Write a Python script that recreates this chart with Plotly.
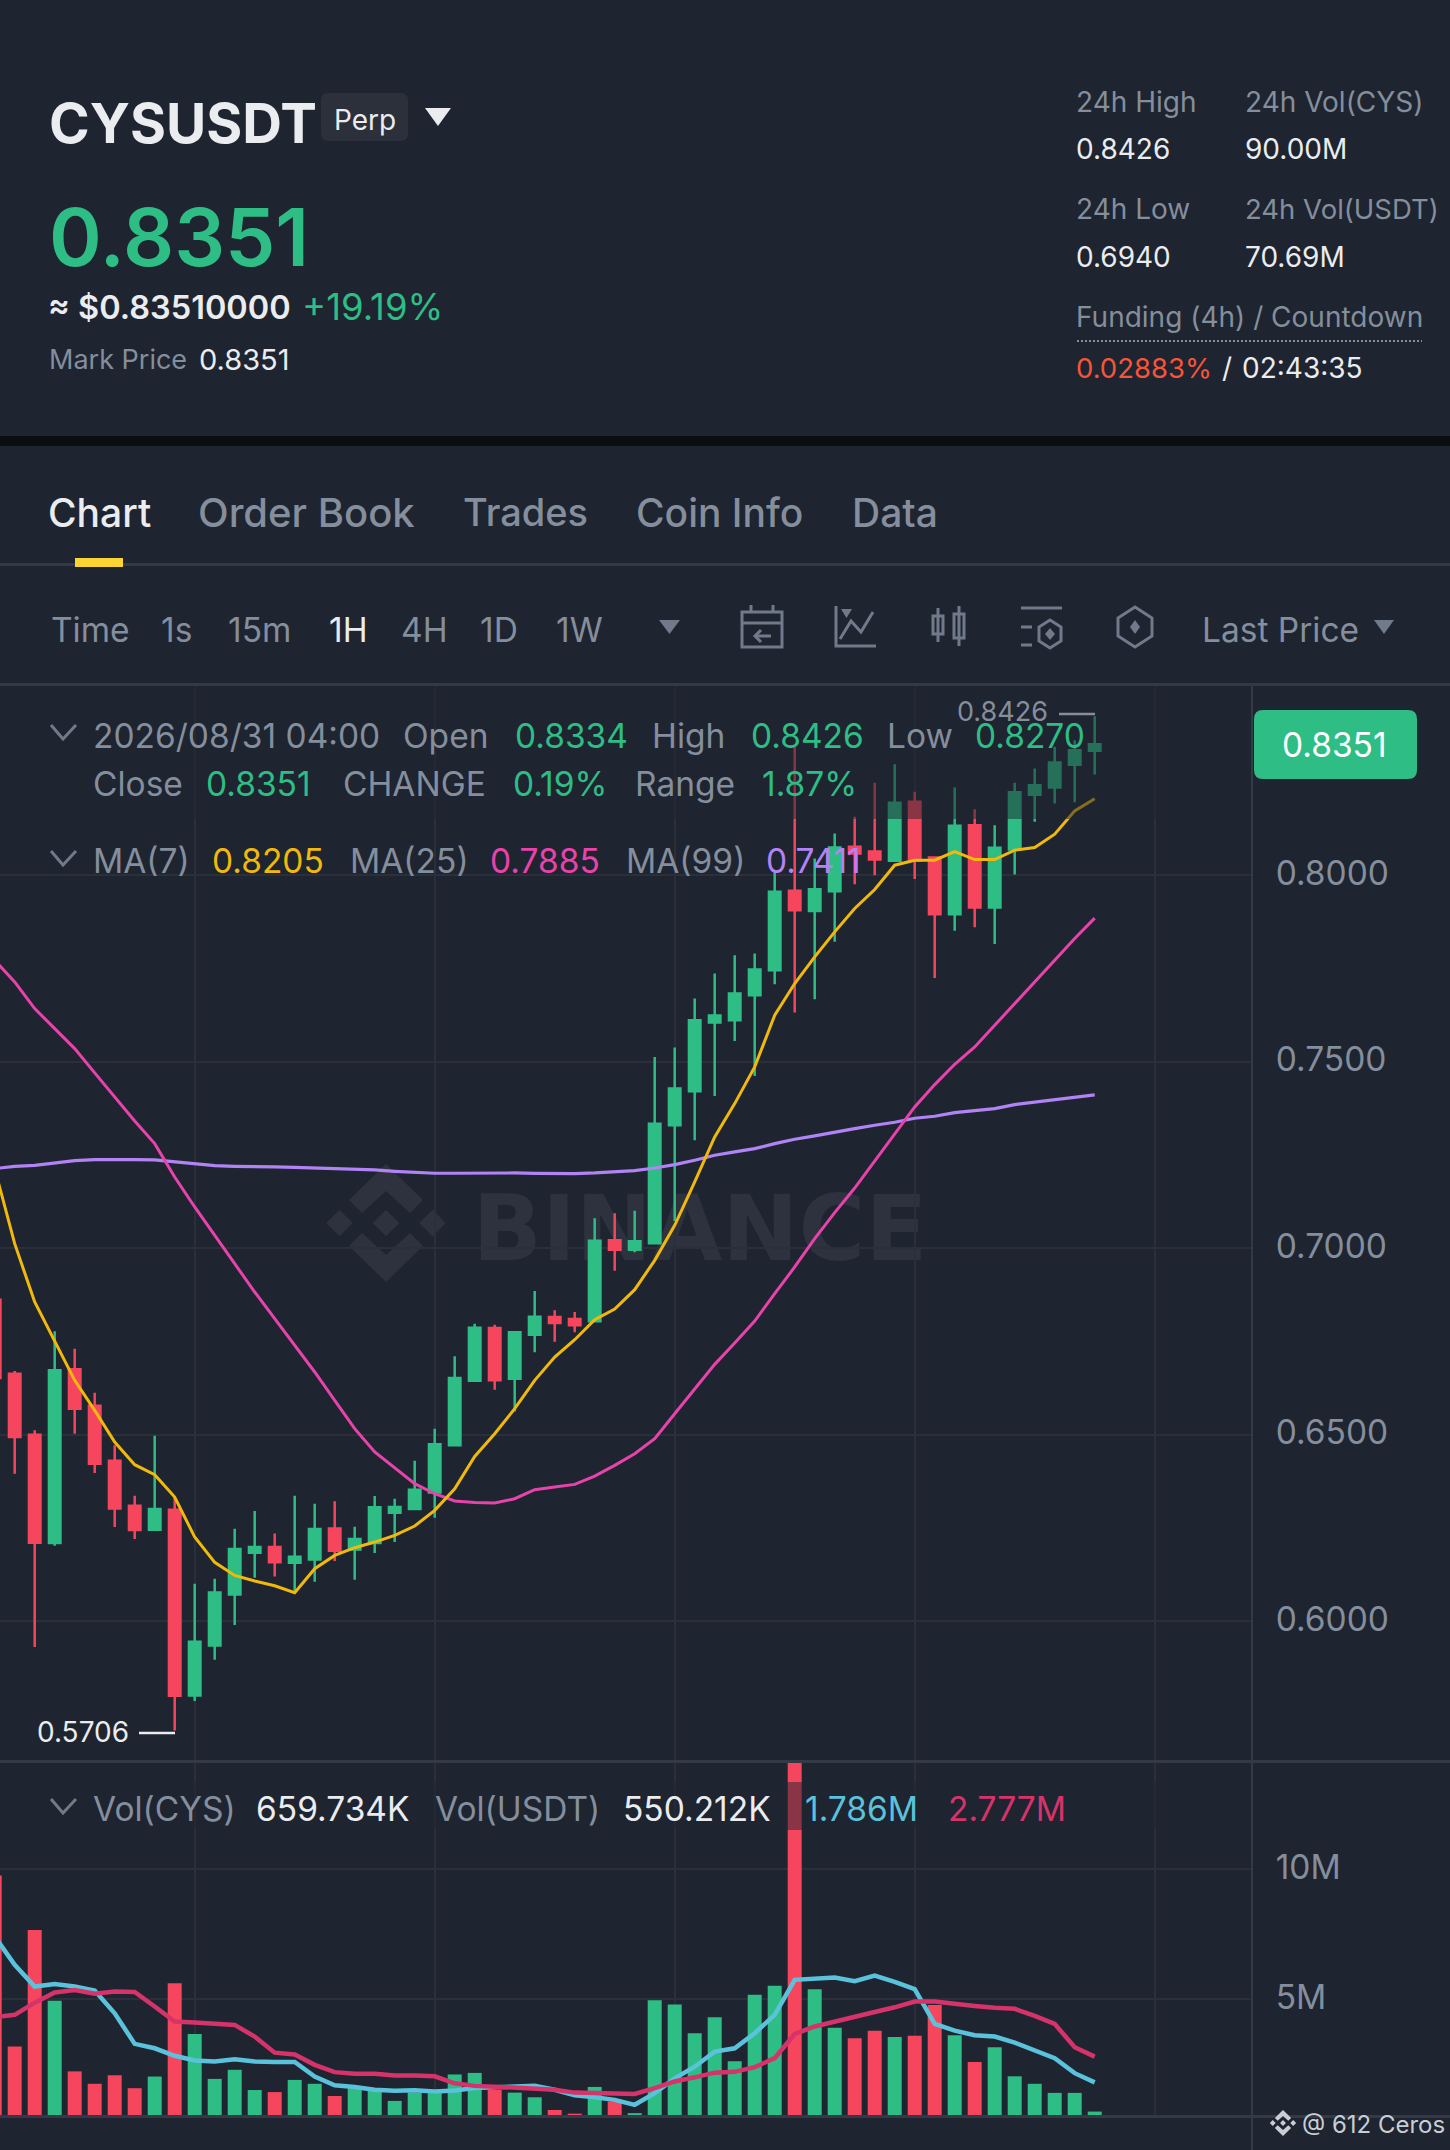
import plotly.graph_objects as go

W, H = 1450, 2150

# Candle index, -1 is the one cut off by the left edge
idx = list(range(-1, 55))

opens = [0.68617, 0.66633, 0.64997, 0.62091, 0.66749, 0.65775, 0.64300, 0.63092, 0.62449, 0.62985,
         0.58005, 0.59346, 0.60714, 0.61832, 0.61984, 0.61564, 0.61653, 0.62484, 0.61921, 0.62091,
         0.62905, 0.63003, 0.63450, 0.64711, 0.66445, 0.67857, 0.66498, 0.67679, 0.68152, 0.68099,
         0.68036, 0.70209, 0.69959, 0.70128, 0.73294, 0.74206, 0.76048, 0.76110, 0.76781, 0.77452,
         0.79580, 0.79043, 0.79571, 0.80760, 0.80635, 0.80384, 0.81967, 0.80474, 0.78954, 0.81341,
         0.79132, 0.80688, 0.82155, 0.82351, 0.82959, 0.8334]
highs = [0.6870, 0.66705, 0.65113, 0.67768, 0.67303, 0.66123, 0.64711, 0.63361, 0.64970, 0.63325,
         0.61000, 0.61134, 0.62476, 0.62949, 0.62350, 0.63361, 0.63146, 0.63209, 0.62529, 0.63352,
         0.63280, 0.64300, 0.65158, 0.67098, 0.67974, 0.67947, 0.67777, 0.68850, 0.68331, 0.68287,
         0.70799, 0.70933, 0.71005, 0.75127, 0.75377, 0.76692, 0.77362, 0.77854, 0.77899, 0.80134,
         0.83442, 0.80447, 0.81117, 0.81564, 0.82476, 0.82977, 0.82235, 0.80480, 0.82351, 0.81770,
         0.81341, 0.82476, 0.82861, 0.83442, 0.83621, 0.8426]
lows = [0.6640, 0.63951, 0.59301, 0.62020, 0.65024, 0.63969, 0.62520, 0.62198, 0.62430, 0.57066,
        0.57853, 0.58962, 0.59892, 0.61161, 0.61197, 0.60777, 0.61054, 0.61608, 0.61108, 0.61823,
        0.62118, 0.63003, 0.62771, 0.64684, 0.66436, 0.66203, 0.65622, 0.67205, 0.67491, 0.67741,
        0.68036, 0.69395, 0.69887, 0.70111, 0.70727, 0.72892, 0.74081, 0.75556, 0.74617, 0.77076,
        0.76316, 0.76674, 0.78212, 0.79758, 0.80000, 0.80370, 0.79901, 0.77246, 0.78507, 0.78605,
        0.78158, 0.80018, 0.81430, 0.81922, 0.81958, 0.8270]
closes = [0.66517, 0.64934, 0.62100, 0.66723, 0.65694, 0.64219, 0.63021, 0.62440, 0.63003, 0.57996,
          0.59445, 0.60768, 0.61930, 0.61984, 0.61573, 0.61725, 0.62467, 0.61885, 0.62198, 0.63048,
          0.63057, 0.63522, 0.64738, 0.66517, 0.67866, 0.66454, 0.67741, 0.68161, 0.67992, 0.67929,
          0.70200, 0.69959, 0.70182, 0.73338, 0.74278, 0.76110, 0.76236, 0.76826, 0.77469, 0.79553,
          0.79061, 0.79624, 0.80742, 0.80581, 0.80420, 0.81940, 0.80384, 0.78954, 0.81323, 0.79132,
          0.80733, 0.82226, 0.82414, 0.83022, 0.83353, 0.8351]

ma7 = [0.72132, 0.70120, 0.68555, 0.67500, 0.66454, 0.65650, 0.64800, 0.64192, 0.63924, 0.63325,
       0.62252, 0.61573, 0.61224, 0.61072, 0.60947, 0.60759, 0.61403, 0.61760, 0.61966, 0.62118,
       0.62297, 0.62547, 0.62967, 0.63548, 0.64415, 0.65023, 0.65694, 0.66454, 0.67080, 0.67544,
       0.68081, 0.68367, 0.68886, 0.69672, 0.70611, 0.71774, 0.72981, 0.73875, 0.74859, 0.76244,
       0.77094, 0.77809, 0.78480, 0.79106, 0.79615, 0.80268, 0.80402, 0.80402, 0.80635, 0.80420,
       0.80420, 0.80670, 0.80742, 0.81099, 0.81725, 0.8205]
ma25 = [0.77720, 0.77139, 0.76423, 0.75887, 0.75350, 0.74698, 0.74054, 0.73410, 0.72802, 0.71908,
        0.71103, 0.70343, 0.69583, 0.68823, 0.68108, 0.67393, 0.66678, 0.65918, 0.65158, 0.64532,
        0.64112, 0.63683, 0.63414, 0.63218, 0.63181, 0.63164, 0.63280, 0.63521, 0.63593, 0.63664,
        0.63888, 0.64174, 0.64487, 0.64889, 0.65560, 0.66230, 0.66883, 0.67455, 0.68045, 0.68778,
        0.69494, 0.70254, 0.70951, 0.71610, 0.72340, 0.73070, 0.73786, 0.74385, 0.74930, 0.75395,
        0.75976, 0.76557, 0.77156, 0.77738, 0.78301, 0.7885]
ma99 = [0.72132, 0.72194, 0.72221, 0.72293, 0.72346, 0.72373, 0.72382, 0.72373, 0.72364, 0.72319,
        0.72257, 0.72212, 0.72194, 0.72194, 0.72176, 0.72167, 0.72150, 0.72132, 0.72114, 0.72096,
        0.72060, 0.72024, 0.72007, 0.72007, 0.72015, 0.72015, 0.72015, 0.72006, 0.71997, 0.71997,
        0.72015, 0.72042, 0.72078, 0.72149, 0.72239, 0.72355, 0.72489, 0.72579, 0.72668, 0.72802,
        0.72919, 0.73008, 0.73115, 0.73204, 0.73294, 0.73375, 0.73482, 0.73535, 0.73634, 0.73679,
        0.73741, 0.73848, 0.73911, 0.73982, 0.74045, 0.7411]

# Volume in millions
volume = [9.76, 3.17, 7.66, 4.93, 2.21, 1.73, 2.06, 1.56, 2.01, 5.61,
          3.65, 1.92, 2.27, 1.49, 1.41, 1.88, 1.73, 1.26, 1.56, 1.49,
          1.07, 1.39, 1.37, 2.09, 2.15, 1.49, 1.39, 1.21, 0.72, 0.58,
          1.61, 1.05, 0.60, 4.95, 4.79, 3.68, 4.30, 2.60, 5.16, 5.51,
          14.2, 5.38, 3.89, 3.49, 3.78, 3.53, 3.58, 4.77, 3.60, 2.57,
          3.14, 2.02, 1.73, 1.38, 1.38, 0.66]
vol_ma5 = [7.41, 6.32, 5.48, 5.58, 5.48, 5.33, 4.45, 3.27, 3.10, 2.81,
           2.63, 2.59, 2.68, 2.59, 2.57, 2.57, 2.01, 1.67, 1.61, 1.50,
           1.46, 1.48, 1.43, 1.47, 1.57, 1.59, 1.62, 1.65, 1.50, 1.29,
           1.21, 1.11, 0.92, 1.37, 1.94, 2.39, 2.97, 3.10, 3.68, 4.39,
           5.74, 5.80, 5.83, 5.69, 5.90, 5.66, 5.38, 4.04, 3.78, 3.60,
           3.55, 3.32, 3.04, 2.72, 2.14, 1.786]
vol_ma10 = [4.30, 4.39, 4.86, 5.25, 5.35, 5.20, 5.29, 5.27, 4.71, 4.13,
            4.09, 4.03, 4.00, 3.55, 2.93, 2.86, 2.46, 2.18, 2.12, 2.12,
            2.05, 2.05, 2.02, 1.75, 1.65, 1.62, 1.59, 1.56, 1.50, 1.39,
            1.37, 1.39, 1.34, 1.56, 1.82, 1.98, 2.16, 2.19, 2.37, 2.72,
            3.65, 3.94, 4.13, 4.35, 4.50, 4.68, 4.90, 4.90, 4.80, 4.73,
            4.66, 4.62, 4.35, 4.04, 3.14, 2.777]

price_ticks = [0.60, 0.65, 0.70, 0.75, 0.80]
vol_ticks = [5, 10]
vol_tick_labels = ["5M", "10M"]
time_grid = [9, 21, 33, 45, 57]

BG = "#1E2430"
GRID = "#2A2F3A"
LINE = "#333945"
GREEN = "#2EBD85"
RED = "#F6465D"
GRAY = "#848E9C"
WHITE = "#EAECEF"
ICON = "#717A8A"
ORANGE = "#F0B90B"
PINK = "#E843AB"
PURPLE = "#B183F5"
BLUE = "#5AC2DB"
ROSE = "#D6336B"
FONT = "Inter"

def fx(x):
    return x / W

def fy(y):
    return 1 - y / H

fig = go.Figure()

# Price pane
fig.add_trace(go.Candlestick(x=idx, open=opens, high=highs, low=lows, close=closes, whiskerwidth=0,
                             increasing=dict(line=dict(color=GREEN, width=2.5), fillcolor=GREEN),
                             decreasing=dict(line=dict(color=RED, width=2.5), fillcolor=RED),
                             xaxis="x", yaxis="y", showlegend=False))
for vals, col, wd in [(ma99, PURPLE, 3.2), (ma25, PINK, 3), (ma7, ORANGE, 3)]:
    fig.add_trace(go.Scatter(x=idx, y=vals, mode="lines", line=dict(color=col, width=wd),
                             xaxis="x", yaxis="y", showlegend=False))

# Volume pane
bar_colors = [GREEN if c >= o else RED for o, c in zip(opens, closes)]
fig.add_trace(go.Bar(x=idx, y=volume, width=0.7, marker=dict(color=bar_colors, line=dict(width=0)),
                     xaxis="x2", yaxis="y2", showlegend=False))
for vals, col in [(vol_ma5, BLUE), (vol_ma10, ROSE)]:
    fig.add_trace(go.Scatter(x=idx, y=vals, mode="lines", line=dict(color=col, width=4.5),
                             xaxis="x2", yaxis="y2", showlegend=False))

shapes = []
annotations = []

def label(x, y, text, size=33.5, color=GRAY, weight=400, anchor="left"):
    annotations.append(dict(x=fx(x - 2 if anchor == "left" else x), y=fy(y), xref="paper", yref="paper",
                            text=text, showarrow=False, xanchor=anchor, yanchor="middle", borderpad=0,
                            font=dict(family=FONT, size=size, color=color, weight=weight)))

def poly(points, close=False):
    s = "M" + " L".join(f"{fx(a):.5f},{fy(b):.5f}" for a, b in points)
    return s + (" Z" if close else "")

def fill(points, color, layer="above"):
    shapes.append(dict(type="path", path=poly(points, True), xref="paper", yref="paper",
                       fillcolor=color, line=dict(width=0), layer=layer))

def stroke(points, color=ICON, width=3, close=False, dash=None):
    shapes.append(dict(type="path", path=poly(points, close), xref="paper", yref="paper",
                       line=dict(color=color, width=width, dash=dash or "solid"), layer="above"))

def box(x0, y0, x1, y1, color, layer="above"):
    shapes.append(dict(type="rect", x0=fx(x0), x1=fx(x1), y0=fy(y0), y1=fy(y1), xref="paper", yref="paper",
                       fillcolor=color, line=dict(width=0), layer=layer))

def rounded(x0, y0, x1, y1, r, color):
    p = (f"M{fx(x0 + r):.5f},{fy(y0):.5f} L{fx(x1 - r):.5f},{fy(y0):.5f} "
         f"Q{fx(x1):.5f},{fy(y0):.5f} {fx(x1):.5f},{fy(y0 + r):.5f} L{fx(x1):.5f},{fy(y1 - r):.5f} "
         f"Q{fx(x1):.5f},{fy(y1):.5f} {fx(x1 - r):.5f},{fy(y1):.5f} L{fx(x0 + r):.5f},{fy(y1):.5f} "
         f"Q{fx(x0):.5f},{fy(y1):.5f} {fx(x0):.5f},{fy(y1 - r):.5f} L{fx(x0):.5f},{fy(y0 + r):.5f} "
         f"Q{fx(x0):.5f},{fy(y0):.5f} {fx(x0 + r):.5f},{fy(y0):.5f} Z")
    shapes.append(dict(type="path", path=p, xref="paper", yref="paper", fillcolor=color,
                       line=dict(width=0), layer="above"))

def logo(cx, cy, s, color, layer="above"):
    # s=1 is the big watermark
    for dx in (-46.5, 0, 46.5):
        fill([(cx + dx * s - 13.3 * s, cy), (cx + dx * s, cy - 13.3 * s),
              (cx + dx * s + 13.3 * s, cy), (cx + dx * s, cy + 13.3 * s)], color, layer)
    for sgn in (-1, 1):
        fill([(cx, cy + sgn * 59 * s), (cx + 37 * s, cy + sgn * 23 * s), (cx + 24 * s, cy + sgn * 10 * s),
              (cx, cy + sgn * 32 * s), (cx - 24 * s, cy + sgn * 10 * s), (cx - 37 * s, cy + sgn * 23 * s)],
             color, layer)

# Watermark goes under the candles
logo(386, 1223, 1, "#2D323E", layer="below")
shapes.append(dict(type="rect", x0=fx(466), x1=fx(934), y0=fy(1187), y1=fy(1255), xref="paper", yref="paper",
                   fillcolor="rgba(0,0,0,0)", line=dict(width=0), layer="below",
                   label=dict(text="BINANCE", textposition="middle center",
                              font=dict(family="DejaVu Sans", size=91, color="#2D323E", weight=700))))

# Page bands and separators
box(0, 436, W, 446, "#0B0E11")
box(0, 563, W, 566, LINE)
box(75, 558, 123, 567, "#FCD535")
box(0, 683, W, 686, LINE)
box(0, 1760, W, 1763, LINE)
box(0, 2115, W, 2118, LINE)
box(1251, 686, 1253, H, LINE)

# The legend strips fade whatever runs behind them
box(0, 686, 1251, 819, "rgba(30,36,48,0.5)")
box(0, 1782, 1251, 1830, "rgba(30,36,48,0.5)")

# Header
label(50, 123, "CYSUSDT", 55, WHITE, 700)
rounded(321, 93, 408, 141, 7, "#2B303B")
label(335, 120, "Perp", 28, WHITE)
fill([(425, 108), (451, 108), (438, 126)], WHITE)
label(50, 236, "0.8351", 80, GREEN, 600)
label(49, 307, "≈ $0.83510000", 32.5, WHITE, 600)
label(303, 307, "+19.19%", 36.5, GREEN)
label(50, 359, "Mark Price", 27, GRAY)
label(200, 359, "0.8351", 29, WHITE)

label(1077, 102, "24h High", 28, GRAY)
label(1246, 102, "24h Vol(CYS)", 28, GRAY)
label(1077, 149, "0.8426", 28, WHITE)
label(1246, 149, "90.00M", 28, WHITE)
label(1077, 209, "24h Low", 28, GRAY)
label(1246, 209, "24h Vol(USDT)", 27.5, GRAY)
label(1077, 257, "0.6940", 28, WHITE)
label(1246, 257, "70.69M", 28, WHITE)
label(1077, 317, "Funding (4h) / Countdown", 28, GRAY)
stroke([(1077, 341), (1422, 341)], GRAY, 2, dash="2px,2px")
label(1077, 368, "0.02883%", 27.5, "#F6553A")
label(1223, 368, "/", 28, WHITE)
label(1243, 368, "02:43:35", 28, WHITE)

# Tabs
label(49, 512, "Chart", 39, WHITE, 500)
label(199, 512, "Order Book", 40, GRAY, 500)
label(464, 512, "Trades", 38, GRAY, 500)
label(637, 512, "Coin Info", 39, GRAY, 500)
label(853, 512, "Data", 39, GRAY, 500)

# Toolbar
for x, t, c in [(52, "Time", GRAY), (162, "1s", GRAY), (229, "15m", GRAY), (330, "1H", WHITE),
                (402, "4H", GRAY), (481, "1D", GRAY), (557, "1W", GRAY), (1203, "Last Price", GRAY)]:
    label(x, 630, t, 33.5, c)
fill([(659, 620), (680, 620), (669.5, 634)], ICON)
fill([(1374, 620), (1394, 620), (1384, 634)], ICON)

stroke([(742, 612), (782, 612), (782, 647), (742, 647)], close=True)
stroke([(742, 623), (782, 623)])
stroke([(751, 605), (751, 612)])
stroke([(773, 605), (773, 612)])
stroke([(771, 636), (755, 636)])
stroke([(761, 630), (755, 636), (761, 642)])
stroke([(836, 606), (836, 646), (876, 646)])
fill([(841, 609), (852, 609), (846.5, 618)], ICON)
stroke([(840, 639), (851, 621), (861, 632), (873, 612)])
stroke([(938, 608), (938, 642)])
stroke([(959, 606), (959, 646)])
stroke([(933, 616), (943, 616), (943, 634), (933, 634)], close=True)
stroke([(954, 614), (964, 614), (964, 638), (954, 638)], close=True)
stroke([(1021, 608), (1062, 608)])
stroke([(1021, 627), (1032, 627)])
stroke([(1021, 645), (1032, 645)])
stroke([(1050, 620), (1061, 627), (1061, 641), (1050, 648), (1039, 641), (1039, 627)], close=True)
fill([(1050, 628), (1055, 634), (1050, 640), (1045, 634)], ICON)
stroke([(1135, 607), (1152, 618), (1152, 636), (1135, 647), (1118, 636), (1118, 618)], close=True)
fill([(1135, 620), (1140, 627), (1135, 634), (1130, 627)], ICON)

# Candle legend
stroke([(51, 725), (63, 739), (76, 725)], ICON, 3)
label(94, 736, "2026/08/31 04:00")
label(404, 736, "Open")
label(516, 736, "0.8334", color=GREEN)
label(653, 736, "High")
label(752, 736, "0.8426", color=GREEN)
label(888, 736, "Low")
label(976, 736, "0.8270", color=GREEN)
label(94, 784, "Close")
label(207, 784, "0.8351", color=GREEN)
label(344, 784, "CHANGE")
label(514, 784, "0.19%", color=GREEN)
label(636, 784, "Range")
label(763, 784, "1.87%", color=GREEN)

stroke([(51, 851), (63, 865), (76, 851)], ICON, 3)
label(94, 861, "MA(7)")
label(213, 861, "0.8205", color=ORANGE)
label(351, 861, "MA(25)")
label(491, 861, "0.7885", color=PINK)
label(627, 861, "MA(99)")
label(767, 861, "0.7411", color=PURPLE)

# Extreme price markers
label(958, 711, "0.8426", 27, GRAY)
stroke([(1059, 714), (1095, 714)], GRAY, 2.5)
label(38, 1732, "0.5706", 28, WHITE)
stroke([(139, 1733), (175, 1733)], WHITE, 2.5)

# Last price badge
rounded(1254, 710, 1417, 779, 9, GREEN)
label(1334, 745, "0.8351", 33.5, "#FFFFFF", anchor="center")

# Volume legend
stroke([(51, 1799), (63, 1813), (76, 1799)], ICON, 3)
label(94, 1809, "Vol(CYS)")
label(257, 1809, "659.734K", color=WHITE)
label(436, 1809, "Vol(USDT)")
label(624, 1809, "550.212K", color=WHITE)
label(806, 1809, "1.786M", color=BLUE)
label(949, 1809, "2.777M", color=ROSE)

# Corner credit
logo(1283, 2123, 0.22, "#C9CDD4")
label(1303, 2124, "@ 612 Ceros", 24, "#C9CDD4")

x_range = [-0.735, 61.865]
x_dom = [0, 1252 / W]
fig.update_layout(
    width=W, height=H, autosize=False, margin=dict(l=0, r=0, t=0, b=0),
    paper_bgcolor=BG, plot_bgcolor=BG, showlegend=False, boxgap=0.425, boxgroupgap=0, bargap=0.3,
    font=dict(family=FONT, color=GRAY),
    xaxis=dict(domain=x_dom, range=x_range, anchor="y", tickvals=time_grid, showticklabels=False, ticks="",
               showgrid=True, gridcolor=GRID, gridwidth=2, zeroline=False, rangeslider=dict(visible=False)),
    yaxis=dict(domain=[fy(1762), fy(685)], range=[0.5622, 0.8510], side="right", anchor="x",
               tickvals=price_ticks, tickformat=".4f", ticks="outside", ticklen=16, tickcolor="rgba(0,0,0,0)",
               tickfont=dict(family=FONT, size=33.5, color=GRAY), ticklabelshift=-2,
               showgrid=True, gridcolor=GRID, gridwidth=2, zeroline=False),
    xaxis2=dict(domain=x_dom, range=x_range, anchor="y2", tickvals=time_grid, showticklabels=False, ticks="",
                showgrid=True, gridcolor=GRID, gridwidth=2, zeroline=False),
    yaxis2=dict(domain=[fy(2117), fy(1763)], range=[0.45, 14.1], side="right", anchor="x2",
                tickvals=vol_ticks, ticktext=vol_tick_labels, ticks="outside", ticklen=16,
                tickcolor="rgba(0,0,0,0)", tickfont=dict(family=FONT, size=33.5, color=GRAY), ticklabelshift=-2,
                showgrid=True, gridcolor=GRID, gridwidth=2, zeroline=False),
    shapes=shapes, annotations=annotations,
)

fig.write_html("out.html", config=dict(displayModeBar=False),
               post_script="document.body.style.margin='0';document.body.style.background='#1E2430';")
